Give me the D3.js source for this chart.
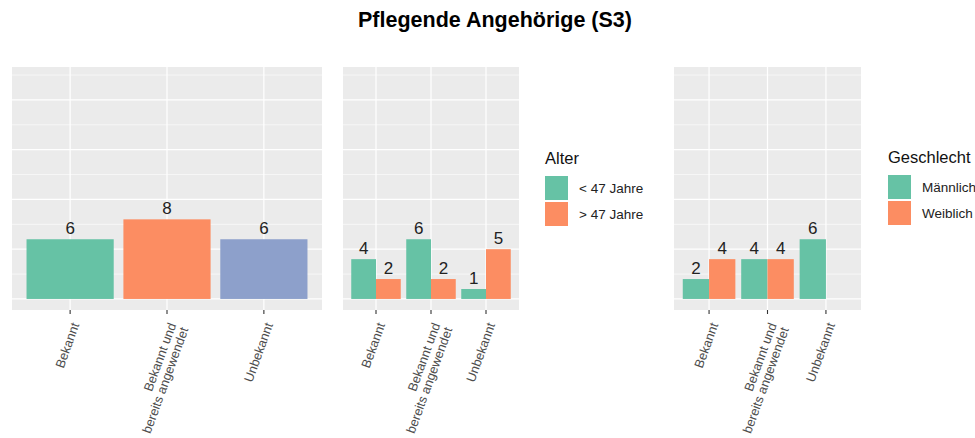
<!DOCTYPE html>
<html>
<head>
<meta charset="utf-8">
<script src="https://cdn.jsdelivr.net/npm/d3@7"></script>
<style>
  body { margin: 0; background: #fff; }
  svg { font-family: "Liberation Sans", Arial, sans-serif; }
</style>
</head>
<body>
<div id="chart"></div>
<script>
// data
const categories = ["Bekannt", "Bekannt und\nbereits angewendet", "Unbekannt"];
const totalValues = [6, 8, 6];
const ageGroups = ["< 47 Jahre", "> 47 Jahre"];
const ageYoung = [4, 6, 1];
const ageOld = [2, 2, 5];
const genders = ["Männlich", "Weiblich"];
const genderMale = [2, 4, 6];
const genderFemale = [4, 4, null];
const yMajorTicks = [0, 5, 10, 15, 20];
const yMinorTicks = [2.5, 7.5, 12.5, 17.5, 22.5];
const yLimit = [0, 22.2];

const set2 = ["#66C2A5", "#FC8D62", "#8DA0CB"];
const panelBg = "#EBEBEB";

const width = 975, height = 438;
const panelTop = 67, panelBottom = 310;

const svg = d3.select("#chart").append("svg")
  .attr("width", width)
  .attr("height", height);

svg.append("text")
  .attr("x", 495)
  .attr("y", 27)
  .attr("text-anchor", "middle")
  .attr("font-size", "21.5px")
  .attr("font-weight", "bold")
  .attr("fill", "#000")
  .text("Pflegende Angehörige (S3)");

// shared y scale (ggplot style 5% expansion)
const expand = (yLimit[1] - yLimit[0]) * 0.05;
const y = d3.scaleLinear()
  .domain([yLimit[0] - expand, yLimit[1] + expand])
  .range([panelBottom, panelTop]);

function drawPanel(x0, x1, series, colors) {
  const g = svg.append("g");
  const x = d3.scalePoint().domain(categories).range([x0, x1]).padding(0.6);
  const step = x.step();

  g.append("rect")
    .attr("x", x0).attr("y", panelTop)
    .attr("width", x1 - x0).attr("height", panelBottom - panelTop)
    .attr("fill", panelBg);

  g.selectAll(".minor").data(yMinorTicks).enter().append("line")
    .attr("x1", x0).attr("x2", x1)
    .attr("y1", d => y(d)).attr("y2", d => y(d))
    .attr("stroke", "#fff").attr("stroke-width", 0.6);
  g.selectAll(".major").data(yMajorTicks).enter().append("line")
    .attr("x1", x0).attr("x2", x1)
    .attr("y1", d => y(d)).attr("y2", d => y(d))
    .attr("stroke", "#fff").attr("stroke-width", 1.2);
  g.selectAll(".vgrid").data(categories).enter().append("line")
    .attr("x1", d => x(d)).attr("x2", d => x(d))
    .attr("y1", panelTop).attr("y2", panelBottom)
    .attr("stroke", "#fff").attr("stroke-width", 1.2);

  // bars (dodged)
  const n = series.length;
  const barW = 0.9 * step / n;
  series.forEach((vals, si) => {
    vals.forEach((v, ci) => {
      if (v == null) return;
      const cx = x(categories[ci]) - 0.45 * step + barW * si;
      const col = n === 1 ? colors[ci] : colors[si];
      g.append("rect")
        .attr("x", cx).attr("y", y(v))
        .attr("width", barW).attr("height", y(0) - y(v))
        .attr("fill", col);
      g.append("text")
        .attr("x", cx + barW / 2).attr("y", y(v) - 5)
        .attr("text-anchor", "middle")
        .attr("font-size", "17px")
        .attr("fill", "#222")
        .text(v);
    });
  });

  // ticks + rotated labels
  categories.forEach(c => {
    g.append("line")
      .attr("x1", x(c)).attr("x2", x(c))
      .attr("y1", panelBottom).attr("y2", panelBottom + 4)
      .attr("stroke", "#333").attr("stroke-width", 1.1);
    const lines = c.split("\n");
    const lh = 13;
    const t = g.append("text")
      .attr("transform", `translate(${x(c) - 1},${panelBottom + 11}) rotate(-70)`)
      .attr("text-anchor", "end")
      .attr("font-size", "12.8px")
      .attr("fill", "#4D4D4D");
    lines.forEach((l, i) => {
      t.append("tspan")
        .attr("x", 0)
        .attr("y", (i + 0.5) * lh + 4.5)
        .text(l);
    });
  });
}

function drawLegend(lx, ly, title, labels) {
  const g = svg.append("g").attr("transform", `translate(${lx},${ly})`);
  g.append("text")
    .attr("x", 0).attr("y", 0)
    .attr("font-size", "16.5px")
    .attr("fill", "#111")
    .text(title);
  labels.forEach((l, i) => {
    g.append("rect")
      .attr("x", 0).attr("y", 12 + i * 26)
      .attr("width", 23).attr("height", 24)
      .attr("fill", set2[i]);
    g.append("text")
      .attr("x", 34).attr("y", 12 + i * 26 + 17)
      .attr("font-size", "13.5px")
      .attr("fill", "#222")
      .text(l);
  });
}

drawPanel(12, 322, [totalValues], set2);
drawPanel(343, 519, [ageYoung, ageOld], set2);
drawPanel(674, 861, [genderMale, genderFemale], set2);

drawLegend(545, 164, "Alter", ageGroups);
drawLegend(888, 163, "Geschlecht", genders);
</script>
</body>
</html>
